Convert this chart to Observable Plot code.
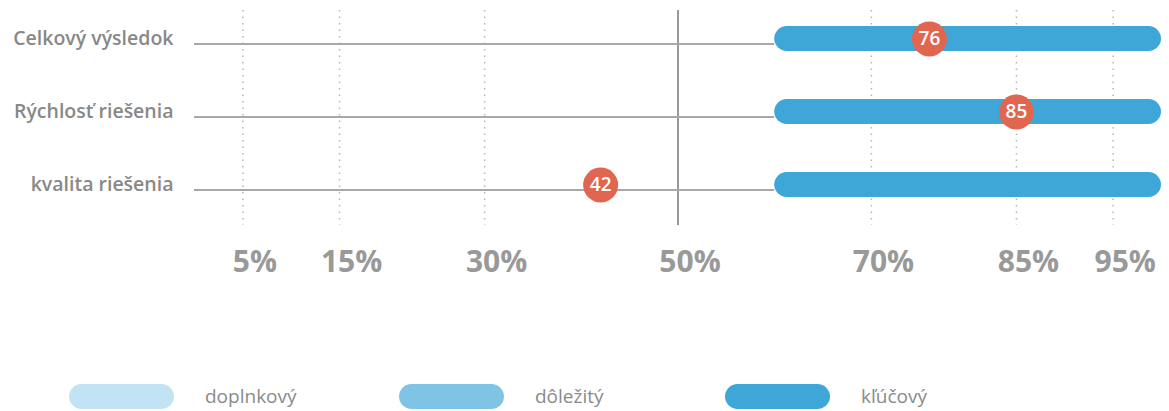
<!DOCTYPE html>
<html>
<head>
<meta charset="utf-8">
<script src="https://cdn.jsdelivr.net/npm/d3@7"></script>
<script src="https://cdn.jsdelivr.net/npm/@observablehq/plot@0.6"></script>
<style>
  body { margin: 0; background: #fff; font-family: "Open Sans", sans-serif; }
  #chart svg { display: block; }
  #legend { position: relative; width: 1169px; height: 111px; }
  .pill { position: absolute; width: 105px; height: 25px; border-radius: 12.5px; top: 84px; }
  .lab { position: absolute; top: 82px; font-size: 19px; color: #8a8a8a; line-height: 28px; }
</style>
</head>
<body>
<div id="chart"></div>
<div id="legend"></div>
<script>
const categories = ["Celkový výsledok", "Rýchlosť riešenia", "kvalita riešenia"];
const scores = [76, 85, 42];
const rangeStart = [60, 60, 60];
const rangeEnd = [100, 100, 100];
const gridTicks = [5, 15, 30, 70, 85, 95];
const centerTick = 50;
const tickLabels = [5, 15, 30, 50, 70, 85, 95];
const legendLabels = ["doplnkový", "dôležitý", "kľúčový"];
const legendColors = ["#c2e3f3", "#80c4e5", "#3fa7d7"];

const rows = categories.map((c, i) => ({cat: c, score: scores[i], x1: rangeStart[i], x2: rangeEnd[i]}));

const chart = Plot.plot({
  width: 1169,
  height: 300,
  marginLeft: 194,
  marginRight: 8,
  marginTop: 10,
  marginBottom: 75,
  style: {fontFamily: "Open Sans, sans-serif", background: "#fff"},
  x: {domain: [0, 100], axis: null},
  y: {type: "band", domain: categories, range: [25.5, 197], paddingInner: 0.659, paddingOuter: 0, axis: null},
  marks: [
    Plot.ruleX(gridTicks, {x: d => d, stroke: "#b5b5b5", strokeWidth: 1.5, strokeDasharray: "1.5,5"}),
    Plot.ruleX([centerTick], {x: d => d, stroke: "#9a9a9a", strokeWidth: 2}),
    Plot.ruleY(rows, {y: "cat", x1: 0, x2: "x1", stroke: "#a8a8a8", strokeWidth: 2, dy: 5}),
    Plot.barX(rows, {y: "cat", x1: "x1", x2: "x2", fill: "#3fa7d7", rx: 12.5}),
    Plot.dot(rows, {y: "cat", x: "score", r: 17.5, fill: "#e1664f", stroke: "none"}),
    Plot.text(rows, {y: "cat", x: "score", text: d => String(d.score), fill: "#fff", fontSize: 19, fontWeight: 600}),
    Plot.text(rows, {y: "cat", text: "cat", frameAnchor: "left", textAnchor: "end", dx: -21, fill: "#888", fontSize: 19.5, fontWeight: 600}),
    Plot.text(tickLabels, {x: d => d, text: d => d + "%", frameAnchor: "bottom", dy: 37, dx: 12, fill: "#999", fontSize: 30, fontWeight: 700, lineAnchor: "middle"})
  ]
});
document.getElementById("chart").appendChild(chart);

const legend = document.getElementById("legend");
const pillX = [69, 399, 725];
legendLabels.forEach((l, i) => {
  const p = document.createElement("div");
  p.className = "pill";
  p.style.left = pillX[i] + "px";
  p.style.background = legendColors[i];
  legend.appendChild(p);
  const t = document.createElement("div");
  t.className = "lab";
  t.style.left = (pillX[i] + 136) + "px";
  t.textContent = l;
  legend.appendChild(t);
});
</script>
</body>
</html>
